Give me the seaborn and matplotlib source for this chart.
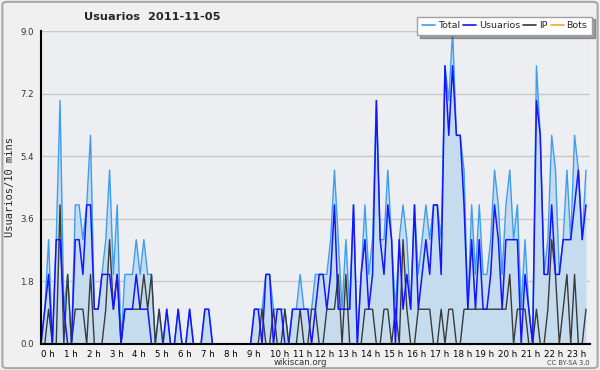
import numpy as np
import pandas as pd
import seaborn as sns
import matplotlib.pyplot as plt
from matplotlib.lines import Line2D
from matplotlib.patches import FancyBboxPatch
from matplotlib.ticker import MultipleLocator

# Values per 10 minutes, 2011-11-05
total = [0, 1, 3, 0, 3, 7,   1, 2, 0, 4, 4, 3,   4, 6, 1, 1, 2, 3,
         5, 2, 4, 0, 2, 2,   2, 3, 2, 3, 2, 2,   0, 1, 0, 1, 0, 0,
         1, 0, 0, 1, 0, 0,   0, 1, 1, 0, 0, 0,   0, 0, 0, 0, 0, 0,
         0, 0, 1, 1, 1, 2,   2, 1, 1, 1, 1, 0,   1, 1, 2, 1, 1, 1,
         2, 2, 2, 2, 3, 5,   3, 1, 3, 1, 4, 0,   2, 4, 2, 3, 7, 3,
         3, 5, 3, 1, 3, 4,   3, 1, 4, 2, 3, 4,   3, 4, 4, 3, 8, 7,
         9, 6, 6, 5, 1, 4,   2, 4, 2, 2, 3, 5,   4, 2, 4, 5, 3, 4,
         1, 3, 1, 0, 8, 6,   2, 3, 6, 5, 2, 3,   5, 3, 6, 5, 3, 5]
usuarios = [0, 1, 2, 0, 3, 3,   1, 0, 0, 3, 3, 2,   4, 4, 1, 1, 2, 2,
            2, 1, 2, 0, 1, 1,   1, 2, 1, 1, 1, 0,   0, 0, 0, 1, 0, 0,
            1, 0, 0, 1, 0, 0,   0, 1, 1, 0, 0, 0,   0, 0, 0, 0, 0, 0,
            0, 0, 1, 1, 0, 2,   2, 0, 1, 1, 0, 0,   1, 1, 1, 1, 1, 0,
            1, 2, 2, 1, 2, 4,   1, 1, 1, 1, 4, 0,   2, 3, 1, 2, 7, 3,
            2, 4, 3, 0, 3, 1,   2, 1, 4, 1, 2, 3,   2, 4, 4, 2, 8, 6,
            8, 6, 6, 4, 1, 3,   1, 3, 1, 1, 2, 4,   3, 1, 3, 3, 3, 3,
            0, 2, 1, 0, 7, 6,   2, 2, 4, 2, 2, 3,   3, 3, 4, 5, 3, 4]
ip = [0, 0, 1, 0, 0, 4,   0, 2, 0, 1, 1, 1,   0, 2, 0, 0, 0, 1,
      3, 1, 2, 0, 1, 1,   1, 1, 1, 2, 1, 2,   0, 1, 0, 0, 0, 0,
      0, 0, 0, 0, 0, 0,   0, 0, 0, 0, 0, 0,   0, 0, 0, 0, 0, 0,
      0, 0, 0, 0, 1, 0,   0, 1, 0, 0, 1, 0,   0, 0, 1, 0, 0, 1,
      1, 0, 0, 1, 1, 1,   2, 0, 2, 0, 0, 0,   0, 1, 1, 1, 0, 0,
      1, 1, 0, 1, 0, 3,   1, 0, 0, 1, 1, 1,   1, 0, 0, 1, 0, 1,
      1, 0, 0, 1, 1, 1,   1, 1, 1, 1, 1, 1,   1, 1, 1, 2, 0, 1,
      1, 1, 0, 0, 1, 0,   0, 1, 3, 2, 0, 1,   2, 0, 2, 0, 0, 1]
bots = [0] * 144
hour_labels = ['{} h'.format(h) for h in range(24)]
y_ticks = [0.0, 1.8, 3.6, 5.4, 7.2, 9.0]

colors = {'Total': '#3d9df0', 'Usuarios': '#1414ff', 'IP': '#3a3a3a', 'Bots': '#ffa520'}

df = pd.DataFrame({
    'hora': np.arange(len(total)) / 6,
    'Total': total,
    'Usuarios': usuarios,
    'IP': ip,
    'Bots': bots,
})

sns.set_style('white')
plt.rcParams['font.family'] = ['DejaVu Sans']

fig = plt.figure(figsize=(6, 3.7), dpi=100, facecolor='#f0f0f0')
fig.patches.append(FancyBboxPatch((0.004, 0.005), 0.992, 0.99, boxstyle='round,pad=0,rounding_size=0.008',
                                  transform=fig.transFigure, facecolor='none', edgecolor='#a8a8a8', lw=1.5))
ax = fig.add_axes([0.0683, 0.0703, 0.9147, 0.8459])
ax.set_facecolor('#eceef1')

ax.fill_between(df.hora, df.Total, color='#c5dcef', lw=0, zorder=1)
sns.lineplot(data=df, x='hora', y='Bots', color=colors['Bots'], lw=1, ax=ax, zorder=1.5)
sns.lineplot(data=df, x='hora', y='Total', color=colors['Total'], lw=1.0, ax=ax, zorder=3)
sns.lineplot(data=df, x='hora', y='IP', color=colors['IP'], lw=1.0, ax=ax, zorder=4)
sns.lineplot(data=df, x='hora', y='Usuarios', color=colors['Usuarios'], lw=1.1, ax=ax, zorder=5)

ax.set_xlim(0, 24)
ax.set_ylim(0, 9.0)
ax.set_yticks(y_ticks)
ax.set_yticklabels(['{:.1f}'.format(v) for v in y_ticks])
ax.yaxis.set_minor_locator(MultipleLocator(0.45))
ax.set_xticks(np.arange(24))
ax.set_xticklabels(hour_labels)
ax.xaxis.set_minor_locator(MultipleLocator(1 / 6))
for lab in ax.get_xticklabels():
    lab.set_horizontalalignment('left')
ax.tick_params(axis='both', which='major', direction='out', length=4, width=1, labelsize=6.2,
               colors='black', pad=0.5)
ax.tick_params(axis='y', which='major', labelcolor='#333333', pad=1)
ax.tick_params(axis='both', which='minor', direction='out', length=3, width=1, colors='black')
ax.tick_params(axis='y', which='minor', length=2.5)
ax.grid(axis='y', which='major', color='#c8c8c8', lw=1)
ax.set_axisbelow(True)
for side in ['top', 'right']:
    ax.spines[side].set_visible(False)
for side in ['left', 'bottom']:
    ax.spines[side].set_color('black')
    ax.spines[side].set_linewidth(1.5)
    ax.spines[side].set_zorder(6)

ax.set_xlabel('')
ax.set_ylabel('Usuarios/10 mins', fontsize=7.5, family='DejaVu Sans Mono', labelpad=4)

fig.text(0.253, 0.953, 'Usuarios  2011-11-05', ha='center', va='center', fontsize=8.2, fontweight='bold')
fig.text(0.5, 0.019, 'wikiscan.org', ha='center', va='center', fontsize=6.2, color='#333333')
fig.text(0.982, 0.018, 'CC BY-SA 3.0', ha='right', va='center', fontsize=4.8, color='#444444')

handles = [Line2D([], [], color=colors[k], lw=1.2) for k in ['Total', 'Usuarios', 'IP', 'Bots']]
leg = fig.legend(handles, ['Total', 'Usuarios', 'IP', 'Bots'], loc='upper right',
                 bbox_to_anchor=(0.987, 0.955), ncol=4, fontsize=6.8, frameon=True, fancybox=False,
                 shadow=True, edgecolor='#a0a0a0', handlelength=1.4, handletextpad=0.3,
                 columnspacing=0.3, borderpad=0.5, borderaxespad=0)
leg.get_frame().set_facecolor('white')
leg.get_frame().set_alpha(1)

fig.savefig('out.png', dpi=100, facecolor=fig.get_facecolor())
